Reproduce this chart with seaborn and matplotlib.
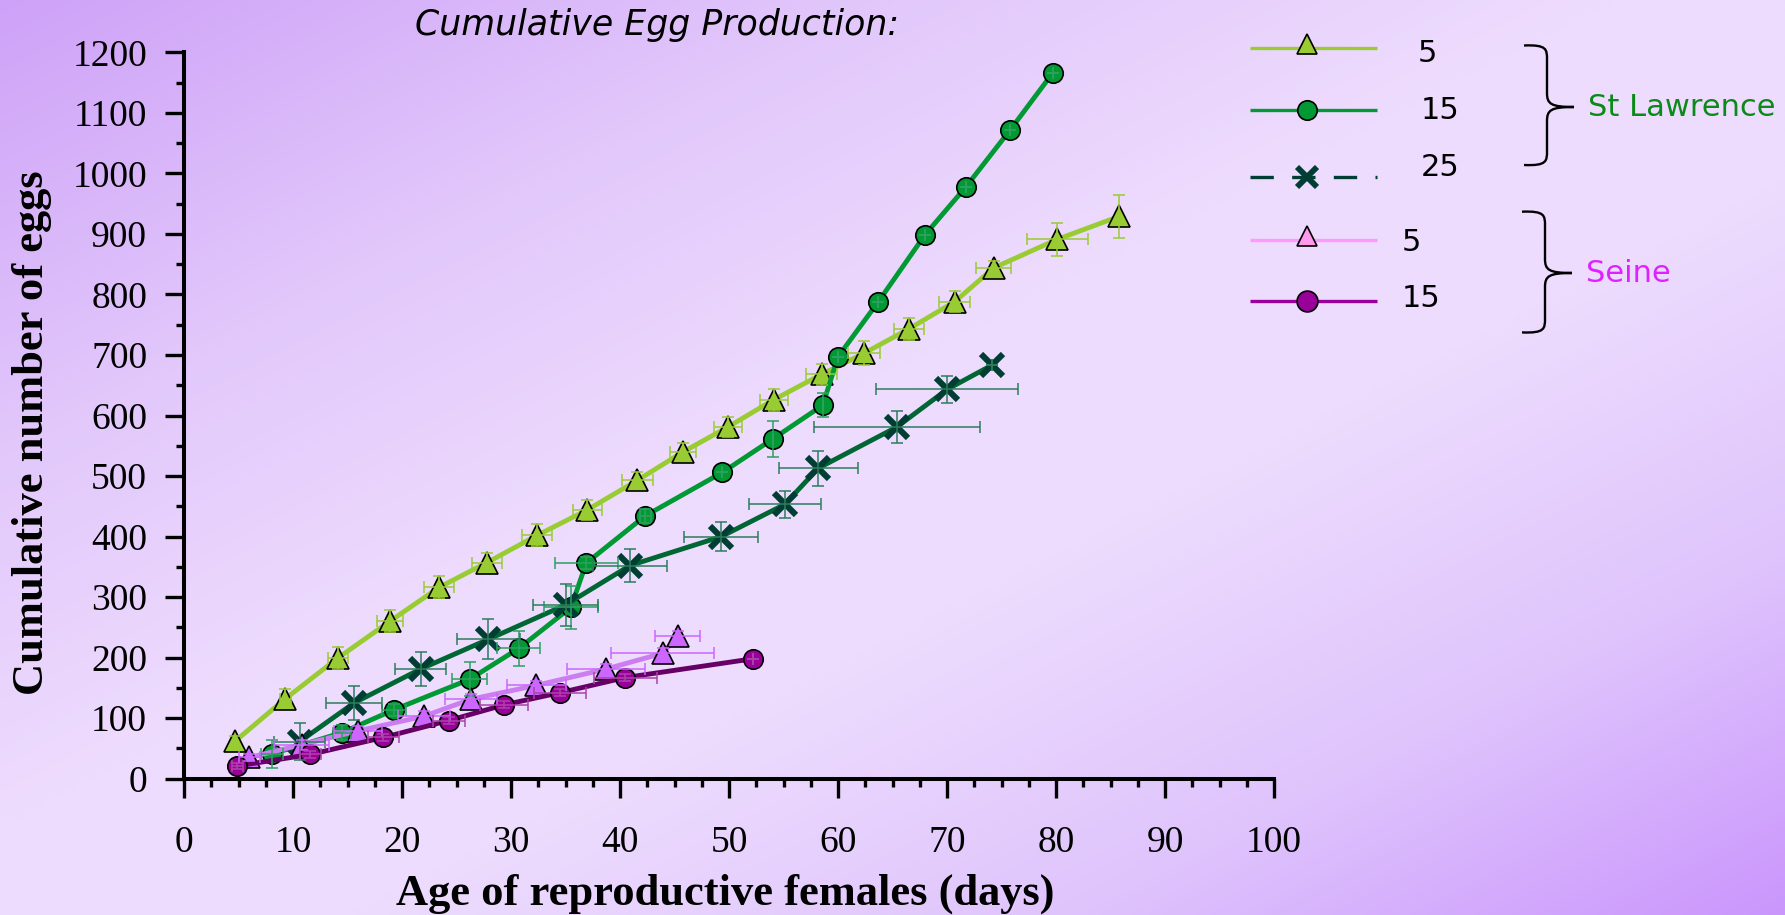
import numpy as np
import pandas as pd
import matplotlib
matplotlib.use("Agg")
import matplotlib.pyplot as plt
import seaborn as sns
from matplotlib import font_manager
from matplotlib.path import Path
from matplotlib.patches import PathPatch
from matplotlib.ticker import MultipleLocator

# ---------------- data ----------------
sl5_x = [4.7, 9.3, 14.1, 18.9, 23.4, 27.8, 32.4, 37.0, 41.6, 45.8, 49.9, 54.1, 58.5, 62.4, 66.5, 70.7, 74.3, 80.1, 85.8]
sl5_y = [62, 132, 199, 260, 316, 357, 402, 444, 493, 540, 581, 626, 668, 703, 743, 788, 844, 891, 929]
sl5_xe = [0, 0.5, 0.9, 1.2, 1.4, 1.4, 1.4, 1.35, 1.4, 1.2, 1.3, 1.3, 1.45, 1.45, 1.4, 1.4, 1.6, 2.8, 0]
sl5_ye = [8, 16, 18, 18, 18, 16, 18, 16, 14, 14, 16, 18, 17, 20, 18, 17, 12, 27, 36]

sl15_x = [8.1, 14.5, 19.3, 26.2, 30.7, 35.5, 36.9, 42.3, 49.4, 54.0, 58.6, 60.0, 63.7, 68.0, 71.7, 75.8, 79.7]
sl15_y = [41, 76, 114, 164, 215, 283, 356, 434, 506, 561, 617, 697, 788, 899, 977, 1072, 1166]
sl15_xe = [1.0, 0.8, 1.1, 1.6, 2.0, 2.5, 2.9, 0.5, 0, 0, 0, 0, 0, 0, 0, 0, 0]
sl15_ye = [23, 12, 10, 28, 29, 36, 10, 12, 0, 30, 20, 0, 0, 0, 0, 0, 0]

sl25_x = [10.6, 15.6, 21.7, 27.9, 35.0, 40.9, 49.3, 55.1, 58.2, 65.4, 70.0, 74.1]
sl25_y = [61, 125, 181, 230, 287, 352, 400, 453, 513, 581, 643, 683]
sl25_xe = [2.3, 2.6, 2.3, 2.9, 3.0, 3.4, 3.4, 3.3, 3.6, 7.6, 6.5, 0]
sl25_ye = [31, 28, 28, 33, 35, 27, 24, 23, 29, 27, 23, 0]

se5_x = [6.0, 10.8, 16.0, 22.0, 26.3, 32.3, 38.7, 43.9, 45.3]
se5_y = [35, 56, 79, 103, 131, 154, 181, 207, 236]
se5_xe = [1.0, 2.5, 2.2, 2.4, 2.4, 2.7, 3.6, 4.7, 2.05]
se5_ye = [6, 8, 8, 8, 8, 8, 8, 8, 8]

se15_x = [4.9, 11.6, 18.3, 24.3, 29.4, 34.5, 40.5, 52.2]
se15_y = [21, 40, 68, 96, 122, 142, 167, 198]
se15_xe = [0.5, 1.0, 1.4, 1.5, 2.2, 2.4, 2.9, 0]
se15_ye = [5, 6, 6, 6, 6, 6, 6, 0]

x_ticks = [0, 10, 20, 30, 40, 50, 60, 70, 80, 90, 100]
y_ticks = [0, 100, 200, 300, 400, 500, 600, 700, 800, 900, 1000, 1100, 1200]

title_text = "Cumulative Egg Production:"
x_label = "Age of reproductive females (days)"
y_label = "Cumulative number of eggs"
legend_labels = ["5", "15", "25", "5", "15"]
group_labels = ["St Lawrence", "Seine"]

# ---------------- style ----------------
sns.set_theme(style="white")
plt.rcParams["font.family"] = ["Liberation Serif", "DejaVu Serif"]


def has_font(name):
    try:
        font_manager.findfont(font_manager.FontProperties(family=name), fallback_to_default=False)
        return True
    except Exception:
        return False


narrow = has_font("Liberation Sans Narrow")

W, H = 1785, 915
fig = plt.figure(figsize=(W / 100, H / 100), dpi=100)

# background gradient
bg = fig.add_axes([0, 0, 1, 1], zorder=-10)
gx = np.linspace(0, 1, 360)
gy = np.linspace(0, 1, 185)
GX, GY = np.meshgrid(gx, gy)
T = (GX + GY) / 2
stops = [0.0, 0.25, 0.45, 0.6, 0.8, 1.0]
cols = ["#CEA2F8", "#E2C8FB", "#EEDCFE", "#EDDCFE", "#DFC4FC", "#CA96FD"]
rgb = np.array([matplotlib.colors.to_rgb(c) for c in cols])
img = np.dstack([np.interp(T, stops, rgb[:, k]) for k in range(3)])
bg.imshow(img, aspect="auto", extent=[0, 1, 0, 1], origin="upper", interpolation="bilinear")
bg.set_axis_off()

left, right = 184 / W, 1274 / W
bottom, top = (H - 778.6) / H, (H - 52.4) / H
ax = fig.add_axes([left, bottom, right - left, top - bottom])
ax.set_facecolor("none")

series = [
    dict(x=sl5_x, y=sl5_y, xe=sl5_xe, ye=sl5_ye, lc="#99CC33", mk="^", mfc="#99CC33", ms=15.5, ec="#99CC33"),
    dict(x=sl15_x, y=sl15_y, xe=sl15_xe, ye=sl15_ye, lc="#009933", mk="o", mfc="#009933", ms=14, ec="#2EA060"),
    dict(x=sl25_x, y=sl25_y, xe=sl25_xe, ye=sl25_ye, lc="#006633", mk="x", mfc="#003D33", ms=16, ec="#2E7D5B"),
    dict(x=se5_x, y=se5_y, xe=se5_xe, ye=se5_ye, lc="#CC7DF0", mk="^", mfc="#CC66FF", ms=15.5, ec="#CC66FF"),
    dict(x=se15_x, y=se15_y, xe=se15_xe, ye=se15_ye, lc="#660066", mk="o", mfc="#990099", ms=14, ec="#AA44AA"),
]

for i, s in enumerate(series):
    df = pd.DataFrame({"x": s["x"], "y": s["y"]})
    if s["mk"] == "x":
        mkw = dict(markeredgecolor=s["mfc"], markeredgewidth=4.4)
    else:
        mkw = dict(markerfacecolor=s["mfc"], markeredgecolor="black", markeredgewidth=1.2)
    sns.lineplot(data=df, x="x", y="y", ax=ax, color=s["lc"], linewidth=3.5,
                 marker=s["mk"], markersize=s["ms"], sort=False, estimator=None,
                 legend=False, zorder=2 + i * 0.1, **mkw)
    ax.errorbar(s["x"], s["y"], xerr=s["xe"], yerr=s["ye"], fmt="none",
                ecolor=s["ec"], elinewidth=1.3, capsize=4, capthick=1.3,
                alpha=0.85, zorder=3 + i * 0.1)

ax.set_xlim(0, 100)
ax.set_ylim(0, 1200)
ax.set_xticks(x_ticks)
ax.set_yticks(y_ticks)
ax.xaxis.set_minor_locator(MultipleLocator(2.5))
ax.yaxis.set_minor_locator(MultipleLocator(50))
for sp in ["top", "right"]:
    ax.spines[sp].set_visible(False)
for sp in ["left", "bottom"]:
    ax.spines[sp].set_linewidth(2.9)
    ax.spines[sp].set_color("black")
ax.tick_params(axis="both", which="major", direction="out", length=13.5, width=2.4, color="black",
               bottom=True, left=True)
ax.tick_params(axis="both", which="minor", direction="out", length=6, width=2.4, color="black",
               bottom=True, left=True)
ax.tick_params(axis="x", which="major", pad=20, labelsize=27, labelcolor="black")
ax.tick_params(axis="y", which="major", pad=13, labelsize=27, labelcolor="black")
ax.grid(False)

ax.set_xlabel(x_label, fontsize=32, fontweight="bold", color="black")
ax.set_ylabel(y_label, fontsize=32, fontweight="bold", color="black")
ax.xaxis.label.set_va("center")
ax.yaxis.label.set_va("center")
ax.xaxis.set_label_coords(0.497, -0.158)
ax.yaxis.set_label_coords(-0.1394, 0.476)

# title
if narrow:
    fig.text(657 / W, 1 - 25 / H, title_text, ha="center", va="center", fontsize=27,
             style="italic", family=["Liberation Sans Narrow", "DejaVu Sans"], color="black")
else:
    fig.text(657 / W, 1 - 25 / H, title_text, ha="center", va="center", fontsize=25,
             style="italic", family=["DejaVu Sans"], color="black")

# ---------------- legend (overlay, pixel coords) ----------------
lg = fig.add_axes([0, 0, 1, 1], zorder=5)
lg.set_xlim(0, W)
lg.set_ylim(H, 0)
lg.set_axis_off()
lg.patch.set_alpha(0)

leg_rows = [
    dict(y=47.8, lc="#99CC33", mk="^", mfc="#99CC33", ls="-", ms=15, dy=-4, tx=1418, ty=53.5),
    dict(y=110.4, lc="#009933", mk="o", mfc="#009933", ls="-", ms=14, dy=0, tx=1421, ty=110.4),
    dict(y=176.5, lc="#003D33", mk="x", mfc="#003D33", ls=(0, (7, 5.5)), ms=14, dy=0, tx=1421, ty=167.3),
    dict(y=240.2, lc="#FF99FF", mk="^", mfc="#FF99EE", ls="-", ms=15, dy=-4, tx=1402, ty=242.5),
    dict(y=300.5, lc="#990099", mk="o", mfc="#990099", ls="-", ms=15, dy=0, tx=1402, ty=298.3),
]
for r, lab in zip(leg_rows, legend_labels):
    lg.plot([1250, 1377], [r["y"], r["y"]], color=r["lc"], lw=2.4, ls=r["ls"], solid_capstyle="butt")
    if r["mk"] == "x":
        lg.plot([1307], [r["y"] + r["dy"]], marker="x", ms=r["ms"], mec=r["mfc"], mew=4.2, ls="none")
    else:
        lg.plot([1307], [r["y"] + r["dy"]], marker=r["mk"], ms=r["ms"], mfc=r["mfc"], mec="black",
                mew=1.2, ls="none")
    lg.text(r["tx"], r["ty"], lab, ha="left", va="center", fontsize=22, family=["DejaVu Sans"],
            color="black")


def brace(x0, xm, xt, top_, bot, mid):
    r = 14
    verts = [
        (x0, top_),
        (xm, top_ - 1), (xm, top_ + 4), (xm, top_ + r),
        (xm, mid - r),
        (xm, mid - 3), (xm + 4, mid), (xt, mid),
        (xm + 4, mid), (xm, mid + 3), (xm, mid + r),
        (xm, bot - r),
        (xm, bot - 4), (xm, bot + 1), (x0, bot),
    ]
    codes = [Path.MOVETO,
             Path.CURVE4, Path.CURVE4, Path.CURVE4,
             Path.LINETO,
             Path.CURVE4, Path.CURVE4, Path.CURVE4,
             Path.CURVE4, Path.CURVE4, Path.CURVE4,
             Path.LINETO,
             Path.CURVE4, Path.CURVE4, Path.CURVE4]
    lg.add_patch(PathPatch(Path(verts, codes), fill=False, lw=1.7, edgecolor="black"))


brace(1524, 1547, 1574, 45.5, 165, 107)
brace(1522, 1545, 1572, 211.7, 332.4, 273)

lg.text(1588, 107, group_labels[0], ha="left", va="center", fontsize=22, family=["DejaVu Sans"],
        color="#0B8A1A")
lg.text(1586, 273, group_labels[1], ha="left", va="center", fontsize=22, family=["DejaVu Sans"],
        color="#DD22FF")

fig.savefig("out.png", dpi=100)
